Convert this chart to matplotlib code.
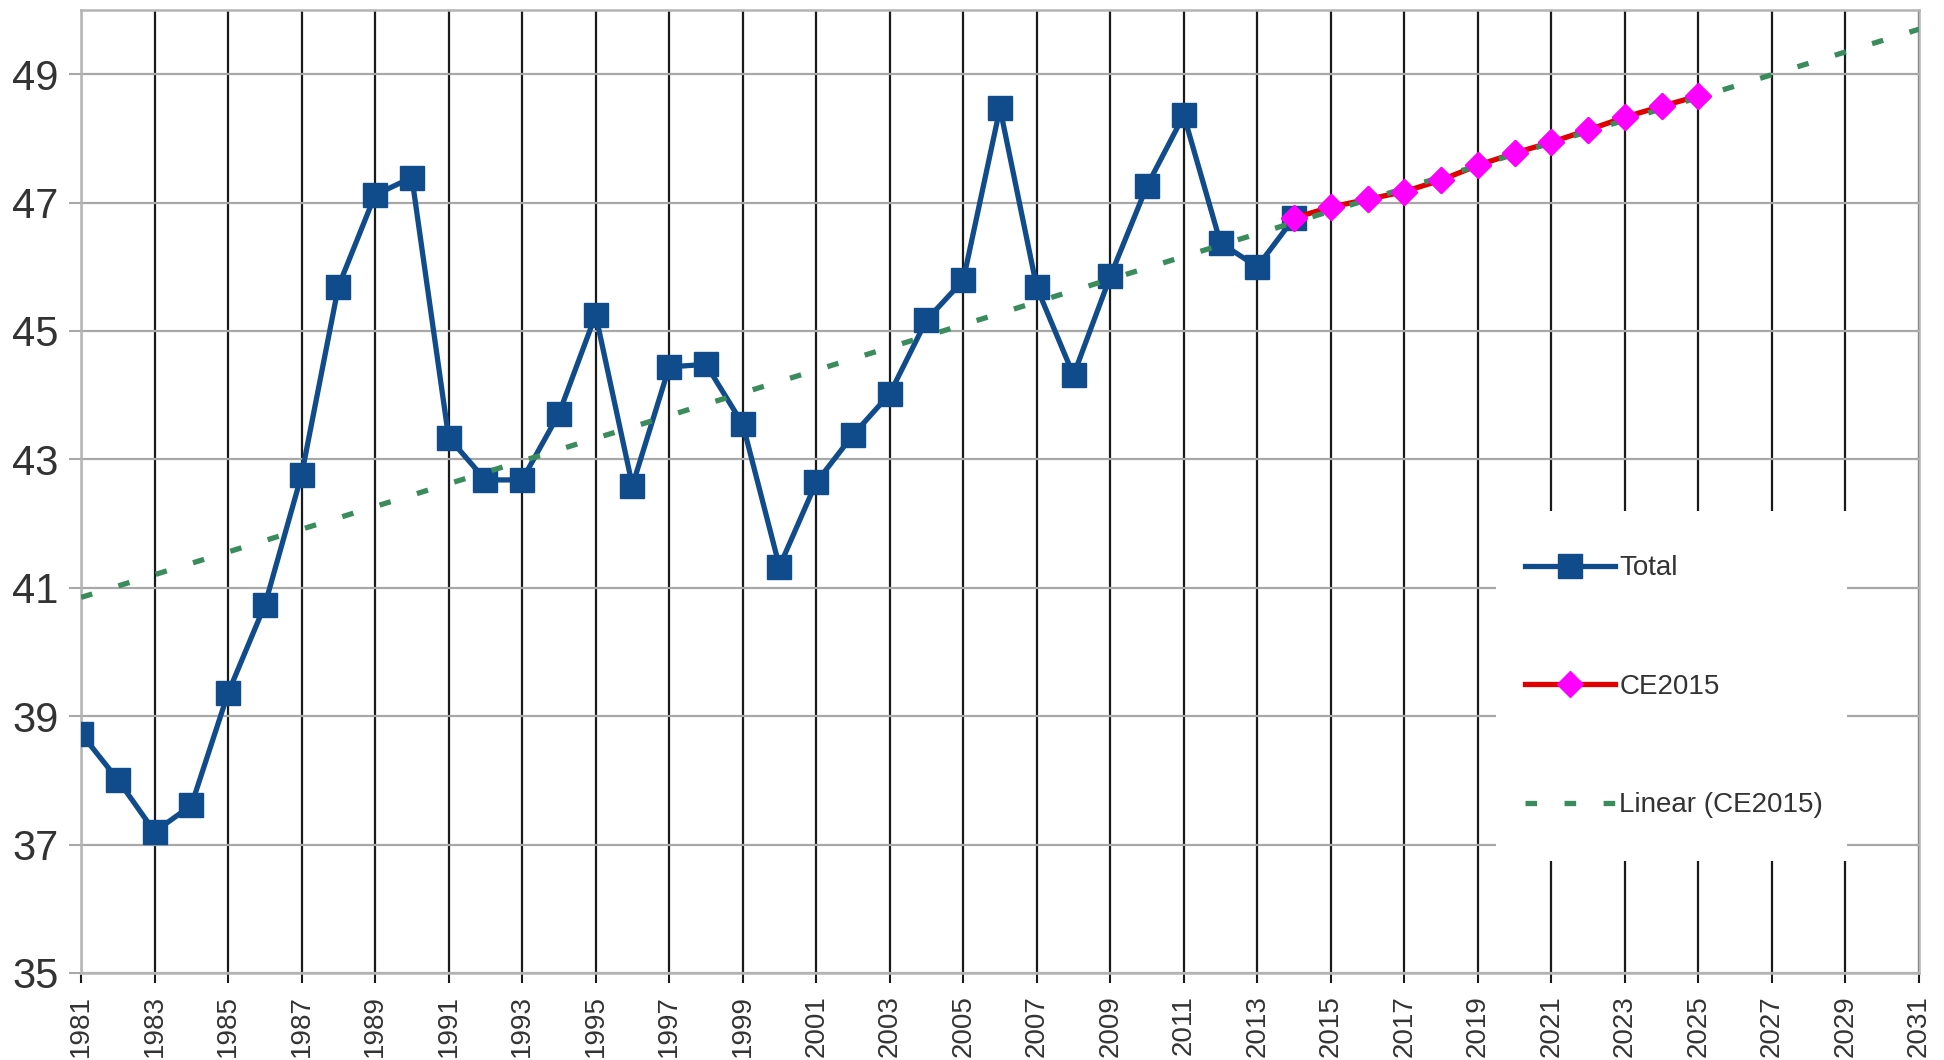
import matplotlib
matplotlib.use("Agg")
import matplotlib.pyplot as plt
from matplotlib.patches import Rectangle

# data
years_total = list(range(1981, 2015))
total = [38.73, 38.01, 37.20, 37.61, 39.36, 40.73, 42.76, 45.69, 47.12, 47.39,
         43.34, 42.68, 42.68, 43.71, 45.25, 42.59, 44.44, 44.48, 43.55, 41.33,
         42.64, 43.38, 44.02, 45.17, 45.79, 48.47, 45.68, 44.31, 45.85, 47.26,
         48.36, 46.37, 46.00, 46.76]

years_ce = list(range(2014, 2026))
ce2015 = [46.76, 46.93, 47.05, 47.17, 47.35, 47.58, 47.77, 47.94, 48.13, 48.33,
          48.50, 48.66]

trend_years = [1981, 2031]
trend_vals = [40.85, 49.7]

xticks = list(range(1981, 2032, 2))
yticks = list(range(35, 50, 2))

plt.rcParams['font.family'] = ['Liberation Sans', 'DejaVu Sans']

fig = plt.figure(figsize=(19.44, 10.60), dpi=100)
ax = fig.add_axes([0.0417, 0.0821, 0.9454, 0.9085])

blue = '#104c8c'
ln_total, = ax.plot(years_total, total, color=blue, lw=3.8, marker='s',
                    ms=17, mfc=blue, mec=blue, label='Total', zorder=3)
ln_ce, = ax.plot(years_ce, ce2015, color='#e00000', lw=3.8, marker='D',
                 ms=13, mfc='#ff00ff', mec='#ff00ff', label='CE2015', zorder=3.2)
ln_tr, = ax.plot(trend_years, trend_vals, color='#3a8c5c', lw=3.8,
                 dashes=(2.2, 5.2), label='Linear (CE2015)', zorder=3.4)
# diamonds over the trend dashes
ax.plot(years_ce, ce2015, ls='none', marker='D', ms=13, mfc='#ff00ff',
        mec='#ff00ff', zorder=3.6)

ax.set_xlim(1981, 2031)
ax.set_ylim(35, 50)
ax.set_xticks(xticks)
ax.set_yticks(yticks)
plt.setp(ax.get_xticklabels(), rotation=90)

ax.set_axisbelow(True)
ax.xaxis.grid(True, color='#1a1a1a', lw=1.6)
ax.yaxis.grid(True, color='#a8a8a8', lw=1.6)
for s in ax.spines.values():
    s.set_color('#b4b4b4')
    s.set_linewidth(1.8)

ax.tick_params(axis='y', labelsize=30, colors='#a8a8a8', labelcolor='#333333',
               length=9, width=1.5, pad=7)
ax.tick_params(axis='x', labelsize=20, colors='#1a1a1a', labelcolor='#333333',
               length=7, width=1.5, pad=9)

# white legend area hiding the grid
ax.add_patch(Rectangle((0.770, 0.116), 0.191, 0.364, transform=ax.transAxes,
                       facecolor='white', edgecolor='none', zorder=1))

leg = ax.legend(handles=[ln_total, ln_ce, ln_tr], loc='center left',
                bbox_to_anchor=(0.7856, 0.297), borderaxespad=0, borderpad=0,
                labelspacing=3.33, handlelength=3.25, handletextpad=0.15,
                numpoints=1, fontsize=20, frameon=False)
for t in leg.get_texts():
    t.set_color('#333333')

fig.savefig('out.png', dpi=100)
